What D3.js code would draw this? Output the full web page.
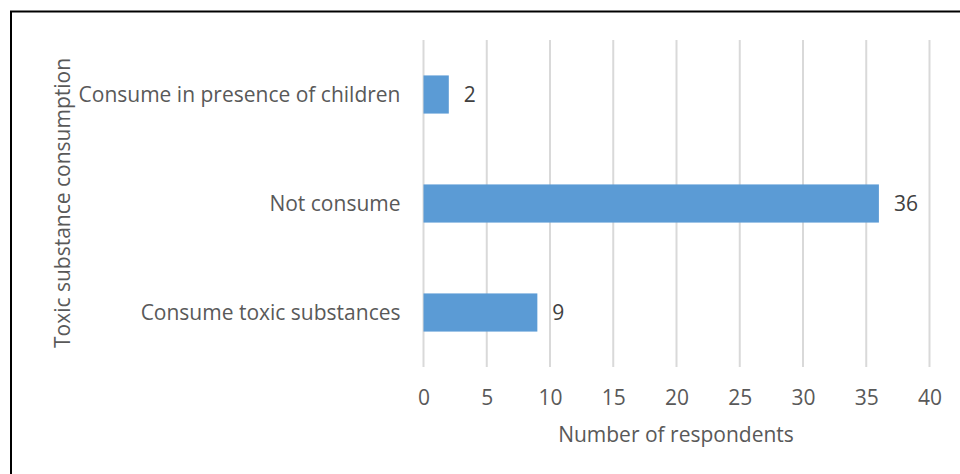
<!DOCTYPE html>
<html>
<head>
<meta charset="utf-8">
<script src="https://cdn.jsdelivr.net/npm/d3@7"></script>
<style>
  html, body { margin: 0; padding: 0; background: #fff; }
  svg { display: block; }
  text { font-family: "Open Sans", sans-serif; }
</style>
</head>
<body>
<svg id="chart" width="960" height="474"></svg>
<script>
const categories = ["Consume in presence of children", "Not consume", "Consume toxic substances"];
const values = [2, 36, 9];
const xTicks = [0, 5, 10, 15, 20, 25, 30, 35, 40];
const xTitle = "Number of respondents";
const yTitle = "Toxic substance consumption";

const svg = d3.select("#chart");
const W = 960, H = 474;
const FONT = "'Open Sans', sans-serif";
const FS = 21;

svg.append("line").attr("x1", 10).attr("x2", W).attr("y1", 11.5).attr("y2", 11.5)
  .attr("stroke", "#000").attr("stroke-width", 2);
svg.append("line").attr("x1", 11).attr("x2", 11).attr("y1", 11).attr("y2", H)
  .attr("stroke", "#000").attr("stroke-width", 2);

const x = d3.scaleLinear().domain([0, 40]).range([423.5, 929.5]);
const y = d3.scaleBand().domain(categories).range([40, 367]).paddingInner(0.65).paddingOuter(0.325);

svg.append("g").selectAll("line").data(xTicks).join("line")
  .attr("x1", d => x(d)).attr("x2", d => x(d))
  .attr("y1", 40).attr("y2", 367)
  .attr("stroke", "#d9d9d9").attr("stroke-width", 2);

svg.append("g").selectAll("rect").data(values).join("rect")
  .attr("x", x(0))
  .attr("y", (d, i) => y(categories[i]))
  .attr("width", d => x(d) - x(0))
  .attr("height", y.bandwidth())
  .attr("fill", "#5b9bd5");

svg.append("g").selectAll("text").data(values).join("text")
  .attr("x", d => x(d) + 15)
  .attr("y", (d, i) => y(categories[i]) + y.bandwidth() / 2)
  .attr("dy", "0.36em")
  .attr("font-size", FS)
  .attr("fill", "#404040")
  .text(d => d);

const xAxis = d3.axisBottom(x).tickValues(xTicks).tickSize(0).tickPadding(0);
const gx = svg.append("g").attr("transform", "translate(0,390)").call(xAxis);
gx.select(".domain").remove();
gx.selectAll("text").attr("font-size", FS).attr("fill", "#595959").attr("font-family", FONT);

const yAxis = d3.axisLeft(y).tickSize(0).tickPadding(23);
const gy = svg.append("g").attr("transform", `translate(${x(0)},0)`).call(yAxis);
gy.select(".domain").remove();
gy.selectAll("text").attr("font-size", FS).attr("fill", "#595959").attr("font-family", FONT)
  .attr("dy", "0.36em");

svg.append("text").attr("x", 676).attr("y", 442).attr("text-anchor", "middle")
  .attr("font-size", FS).attr("fill", "#595959").text(xTitle);
svg.append("text").attr("transform", "translate(70,203) rotate(-90)")
  .attr("text-anchor", "middle").attr("font-size", FS).attr("fill", "#595959").text(yTitle);
</script>
</body>
</html>
